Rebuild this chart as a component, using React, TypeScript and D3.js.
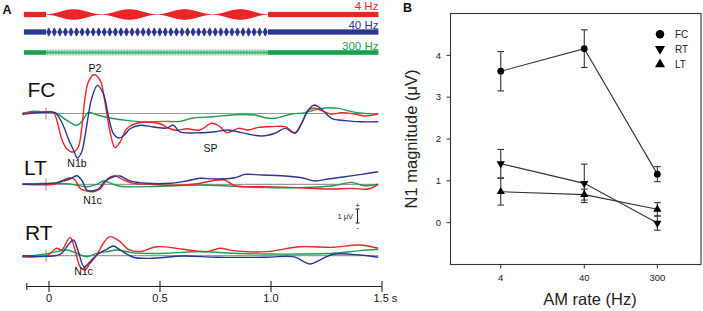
import React from "react";
import * as d3 from "d3";

type P = [number, number];

// ---------- Panel A data ----------
const stimRates = [4, 40, 300];
const stimLabels = ["4 Hz", "40 Hz", "300 Hz"];
const timeTicks = [0, 0.5, 1.0, 1.5];
const timeTickLabels = ["0", "0.5", "1.0", "1.5 s"];

const fcRed: P[] = [[-0.12,0],[-0.07,0.08],[-0.01,0.11],[0.02,0.07],[0.035,-0.46],[0.057,-1.8],[0.08,-2.51],[0.11,-2.75],[0.132,-2.39],[0.147,-1.09],[0.162,1.06],[0.177,2.25],[0.203,2.77],[0.23,2.39],[0.252,0.82],[0.275,-1.32],[0.297,-2.44],[0.32,-2.04],[0.35,-1.09],[0.387,-0.73],[0.44,-0.61],[0.5,-0.73],[0.545,-1.09],[0.575,-1.2],[0.62,-1.09],[0.68,-1.18],[0.733,-0.7],[0.77,-0.94],[0.8,-1.37],[0.853,-1.06],[0.898,-1.18],[0.943,-0.99],[1.003,-0.94],[1.063,-0.94],[1.108,-1.37],[1.138,-0.7],[1.168,0.25],[1.198,0.37],[1.228,0.2],[1.273,-0.04],[1.318,0.06],[1.378,-0.04],[1.423,-0.18],[1.483,-0.04]];
const fcBlue: P[] = [[-0.12,-0.05],[-0.01,0.1],[0.027,0.06],[0.057,-0.61],[0.087,-1.8],[0.11,-2.61],[0.128,-3.18],[0.147,-2.75],[0.17,-0.84],[0.192,1.06],[0.218,2.01],[0.245,1.41],[0.267,-0.13],[0.29,-1.44],[0.312,-1.75],[0.335,-1.61],[0.365,-1.09],[0.41,-0.84],[0.47,-0.96],[0.53,-1.04],[0.56,-0.84],[0.59,-1.32],[0.68,-1.37],[0.748,-1.3],[0.808,-1.18],[0.868,-1.37],[0.958,-1.61],[1.018,-1.41],[1.063,-1.06],[1.108,-1.41],[1.138,-0.7],[1.168,0.25],[1.195,0.61],[1.228,0.3],[1.273,-0.34],[1.333,-0.51],[1.408,-0.59],[1.483,-0.59]];
const fcGreen: P[] = [[-0.12,0],[-0.07,0.16],[-0.01,0.1],[0.035,0],[0.08,-0.49],[0.125,-0.84],[0.147,-0.61],[0.177,0.06],[0.215,-0.09],[0.275,-0.32],[0.35,-0.49],[0.44,-0.61],[0.515,-0.56],[0.59,-0.56],[0.65,-0.32],[0.74,-0.23],[0.838,-0.09],[0.928,-0.11],[0.975,-0.3],[1.018,-0.34],[1.093,-0.04],[1.153,0.06],[1.228,0.37],[1.303,0.37],[1.363,0.13],[1.423,0.01],[1.483,-0.04]];

const ltRed: P[] = [[-0.12,0],[0.02,0],[0.05,0.19],[0.095,0.47],[0.117,0.31],[0.14,-0.29],[0.17,-0.48],[0.2,-0.53],[0.23,-0.34],[0.267,0.43],[0.297,0.61],[0.335,0.31],[0.38,0.07],[0.47,0],[0.55,-0.09],[0.65,0],[0.733,0.24],[0.79,0.31],[0.838,-0.1],[0.958,-0.17],[1.108,-0.24],[1.258,-0.34],[1.363,-0.29],[1.438,-0.34],[1.483,0]];
const ltBlue: P[] = [[-0.12,0],[0.03,0.1],[0.065,0.24],[0.095,0.38],[0.125,0.61],[0.147,0.31],[0.17,-0.41],[0.19,-0.48],[0.222,-0.34],[0.25,0.19],[0.29,0.54],[0.32,0.59],[0.365,0.24],[0.44,0.07],[0.545,0.07],[0.62,0.24],[0.68,0.43],[0.748,0.38],[0.838,0.47],[0.883,0.71],[0.958,0.66],[1.048,0.61],[1.138,0.47],[1.198,0.24],[1.258,0.38],[1.333,0.54],[1.408,0.71],[1.483,0.9]];
const ltGreen: P[] = [[-0.12,0],[0.08,0.05],[0.17,-0.17],[0.215,0],[0.245,0.24],[0.275,0.1],[0.32,-0.14],[0.5,-0.14],[0.68,-0.05],[0.83,-0.14],[0.98,-0.24],[1.13,-0.24],[1.28,-0.1],[1.363,0.14],[1.42,-0.1],[1.483,0]];

const rtRed: P[] = [[-0.12,-0.07],[-0.01,0],[0.035,0.53],[0.057,0.41],[0.095,1.31],[0.117,0.41],[0.14,-0.79],[0.162,-1.02],[0.185,-0.54],[0.215,0.05],[0.245,0.89],[0.275,1.36],[0.32,1.0],[0.357,0.46],[0.41,0.29],[0.485,0.64],[0.605,0.46],[0.71,0.29],[0.77,0.53],[0.83,0.36],[0.98,0.29],[1.13,0.64],[1.28,0.6],[1.4,0.76],[1.483,0.53]];
const rtBlue: P[] = [[-0.12,0],[0.05,0.1],[0.08,0.64],[0.11,1.12],[0.132,0.29],[0.158,-0.79],[0.185,-0.43],[0.215,0.05],[0.26,0.46],[0.29,0.69],[0.32,0.41],[0.38,-0.11],[0.455,-0.19],[0.605,-0.02],[0.755,-0.11],[0.98,-0.11],[1.1,-0.07],[1.176,-0.59],[1.22,-0.31],[1.28,0.1],[1.4,0.05],[1.483,-0.11]];
const rtGreen: P[] = [[-0.12,-0.07],[0,0.17],[0.08,0.41],[0.12,0.2],[0.17,-0.07],[0.215,0.17],[0.26,0.29],[0.305,0.41],[0.38,0.2],[0.53,0.17],[0.68,0.3],[0.83,0.17],[0.98,0.12],[1.13,0.12],[1.28,0.17],[1.4,0.36],[1.483,0.46]];

// ---------- Panel B data ----------
const amRates = [4, 40, 300];
const fcMean = [3.62, 4.16, 1.16];
const fcErr = [0.47, 0.45, 0.18];
const rtMean = [1.41, 0.94, -0.01];
const rtErr = [0.34, 0.46, 0.17];
const ltMean = [0.74, 0.67, 0.32];
const ltErr = [0.32, 0.13, 0.16];
const yTicksB = [0, 1, 2, 3, 4];

const FONT = "'Liberation Sans', Arial, Helvetica, sans-serif";
const RED = "#ec2327";
const BLUE = "#2c3592";
const GREEN = "#18a14c";
const colors = [RED, BLUE, GREEN];

export default function App() {
  const xT = d3.scaleLinear().domain([0, 1]).range([49, 271]);
  const pxPerUv = 14;
  const onset = -0.0135;

  const stimY = [14.5, 32, 52.5];
  const stimSteady = [5.3, 5.3, 4.6];
  const stimMax = [10, 8, 6.5];
  const stimTextY = [9.8, 29.3, 49.8];
  const tStart = -0.113;
  const tEnd = 1.484;
  const nSamp = 2600;
  const stimPaths = stimRates.map((f, i) => {
    const cy = stimY[i];
    const pts: { t: number; h: number }[] = [];
    for (let k = 0; k <= nSamp; k++) {
      const tt = onset + k / nSamp;
      const env = (1 - Math.cos(2 * Math.PI * f * (tt - onset))) / 2;
      pts.push({ t: tt, h: stimMax[i] * env + 0.5 });
    }
    const area = d3
      .area<{ t: number; h: number }>()
      .x((d) => xT(d.t))
      .y0((d) => cy - d.h / 2)
      .y1((d) => cy + d.h / 2);
    return area(pts) as string;
  });

  const rows = [
    { name: "FC", base: 113.5, traces: [fcGreen, fcRed, fcBlue], labelX: 27.5, labelY: 97 },
    { name: "LT", base: 184.3, traces: [ltGreen, ltRed, ltBlue], labelX: 24, labelY: 175 },
    { name: "RT", base: 255.7, traces: [rtGreen, rtRed, rtBlue], labelX: 25, labelY: 240 },
  ];
  const traceColors = [GREEN, RED, BLUE];

  const axisY = 286.5;

  const xB = d3.scaleLog().domain([1, 1000]).range([450.5, 701]);
  const yB = d3.scaleLinear().domain([-1, 5]).range([264.5, 13.5]);
  const lineB = d3
    .line<number>()
    .x((_, i) => xB(amRates[i]))
    .y((d) => yB(d));
  const seriesB = [
    { name: "FC", mean: fcMean, err: fcErr, sym: d3.symbolCircle, size: 36, rot: 0, legSize: 56 },
    { name: "RT", mean: rtMean, err: rtErr, sym: d3.symbolTriangle, size: 30, rot: 180, legSize: 44 },
    { name: "LT", mean: ltMean, err: ltErr, sym: d3.symbolTriangle, size: 30, rot: 0, legSize: 44 },
  ];
  const legendY = [34.3, 49, 64.3];

  return (
    <div style={{ position: "absolute", left: 0, top: 0 }}>
      <svg width={703} height={311} style={{ display: "block", background: "#fff" }} fontFamily={FONT}>
        <rect width={703} height={311} fill="#fff" />
        <text x={2.5} y={13.5} fontSize={12.5} fontWeight="bold" fill="#111">A</text>

        {stimRates.map((f, i) => (
          <g key={"stim" + f}>
            <rect x={xT(tStart)} y={stimY[i] - stimSteady[i] / 2} width={xT(onset) - xT(tStart)} height={stimSteady[i]} fill={colors[i]} />
            <rect x={xT(onset + 1)} y={stimY[i] - stimSteady[i] / 2} width={xT(tEnd) - xT(onset + 1)} height={stimSteady[i]} fill={colors[i]} />
            <path d={stimPaths[i]} fill={colors[i]} opacity={i === 2 ? 0.85 : 1} />
            <text x={xT(tEnd)} y={stimTextY[i]} fontSize={11.5} textAnchor="end" fill={colors[i]}>{stimLabels[i]}</text>
          </g>
        ))}

        {rows.map((r) => {
          const y = d3.scaleLinear().domain([0, 1]).range([r.base, r.base - pxPerUv]);
          const line = d3
            .line<P>()
            .x((d) => xT(d[0]))
            .y((d) => y(d[1]))
            .curve(d3.curveCatmullRom.alpha(0.5));
          return (
            <g key={r.name}>
              <line x1={xT(-0.117)} x2={xT(1.484)} y1={r.base} y2={r.base} stroke="#9a9a9a" strokeWidth={1.2} />
              <line x1={xT(onset)} x2={xT(onset)} y1={r.base - 6} y2={r.base + 6} stroke="#888" strokeWidth={1} />
              {r.traces.map((tr, k) => (
                <path key={k} d={line(tr) as string} fill="none" stroke={traceColors[k]} strokeWidth={1.4} strokeLinejoin="round" />
              ))}
              <text x={r.labelX} y={r.labelY} fontSize={21} fill="#111">{r.name}</text>
            </g>
          );
        })}

        <text x={95} y={72} fontSize={10.5} textAnchor="middle" fill="#111">P2</text>
        <text x={77} y={167} fontSize={10.5} textAnchor="middle" fill="#111">N1b</text>
        <text x={210.5} y={152} fontSize={10.5} textAnchor="middle" fill="#111">SP</text>
        <text x={92.5} y={203.5} fontSize={10.5} textAnchor="middle" fill="#111">N1c</text>
        <text x={83.5} y={275} fontSize={10.5} textAnchor="middle" fill="#111">N1c</text>

        <g>
          <text x={353} y={219} fontSize={7.5} textAnchor="end" fill="#222">1 μV</text>
          <line x1={357.5} x2={357.5} y1={209} y2={209 + pxPerUv} stroke="#222" strokeWidth={1} />
          <line x1={355.5} x2={359.5} y1={209} y2={209} stroke="#222" strokeWidth={1} />
          <line x1={355.5} x2={359.5} y1={209 + pxPerUv} y2={209 + pxPerUv} stroke="#222" strokeWidth={1} />
          <text x={357.5} y={208} fontSize={8} textAnchor="middle" fill="#222">+</text>
          <text x={357.5} y={230} fontSize={8} textAnchor="middle" fill="#222">-</text>
        </g>

        <g stroke="#222" strokeWidth={1.1}>
          <line x1={xT(-0.1)} x2={xT(1.5)} y1={axisY} y2={axisY} />
          <line x1={xT(-0.1)} x2={xT(-0.1)} y1={axisY - 3.5} y2={axisY + 3.5} />
          {timeTicks.map((t) => (
            <line key={t} x1={xT(t)} x2={xT(t)} y1={axisY - 5.5} y2={axisY + 5.5} />
          ))}
        </g>
        {timeTicks.map((t, i) =>
          i === timeTicks.length - 1 ? (
            <text key={"l" + t} x={xT(t) - 8.5} y={301.5} fontSize={11} fill="#111">{timeTickLabels[i]}</text>
          ) : (
            <text key={"l" + t} x={xT(t)} y={301.5} fontSize={11} textAnchor="middle" fill="#111">{timeTickLabels[i]}</text>
          )
        )}

        <text x={403} y={11.5} fontSize={12.5} fontWeight="bold" fill="#111">B</text>
        <rect x={450.5} y={13.5} width={250.5} height={251} fill="none" stroke="#333" strokeWidth={1.1} />
        {yTicksB.map((v) => (
          <g key={"yt" + v}>
            <line x1={446.5} x2={450.5} y1={yB(v)} y2={yB(v)} stroke="#333" strokeWidth={1} />
            <text x={441} y={yB(v) + 3.3} fontSize={9.5} textAnchor="end" fill="#222">{v}</text>
          </g>
        ))}
        {amRates.map((r) => (
          <g key={"xt" + r}>
            <line x1={xB(r)} x2={xB(r)} y1={264.5} y2={268.5} stroke="#333" strokeWidth={1} />
            <text x={xB(r)} y={280.5} fontSize={9.5} textAnchor="middle" fill="#222">{r}</text>
          </g>
        ))}
        <text x={590} y={305} fontSize={16.5} textAnchor="middle" fill="#222">AM rate (Hz)</text>
        <text transform={`translate(417,139) rotate(-90)`} fontSize={16.5} textAnchor="middle" fill="#222">N1 magnitude (μV)</text>

        {seriesB.map((s) => (
          <path key={"ln" + s.name} d={lineB(s.mean) as string} fill="none" stroke="#333" strokeWidth={1.1} />
        ))}
        {seriesB.map((s) => (
          <g key={"eb" + s.name} stroke="#333" strokeWidth={1.1}>
            {s.mean.map((m, i) => {
              const x = xB(amRates[i]);
              const y1 = yB(m + s.err[i]);
              const y2 = yB(m - s.err[i]);
              return (
                <g key={i}>
                  <line x1={x} x2={x} y1={y1} y2={y2} />
                  <line x1={x - 3.3} x2={x + 3.3} y1={y1} y2={y1} />
                  <line x1={x - 3.3} x2={x + 3.3} y1={y2} y2={y2} />
                </g>
              );
            })}
          </g>
        ))}
        {seriesB.map((s) => (
          <g key={"mk" + s.name}>
            {s.mean.map((m, i) => (
              <path
                key={i}
                d={d3.symbol(s.sym, s.size)() as string}
                transform={`translate(${xB(amRates[i])},${yB(m)}) rotate(${s.rot})`}
                fill="#000"
              />
            ))}
          </g>
        ))}
        {seriesB.map((s, i) => (
          <g key={"lg" + s.name}>
            <path d={d3.symbol(s.sym, s.legSize)() as string} transform={`translate(660,${legendY[i]}) rotate(${s.rot})`} fill="#000" />
            <text x={675} y={legendY[i] + 3.5} fontSize={10} fill="#222">{s.name}</text>
          </g>
        ))}
      </svg>
    </div>
  );
}
